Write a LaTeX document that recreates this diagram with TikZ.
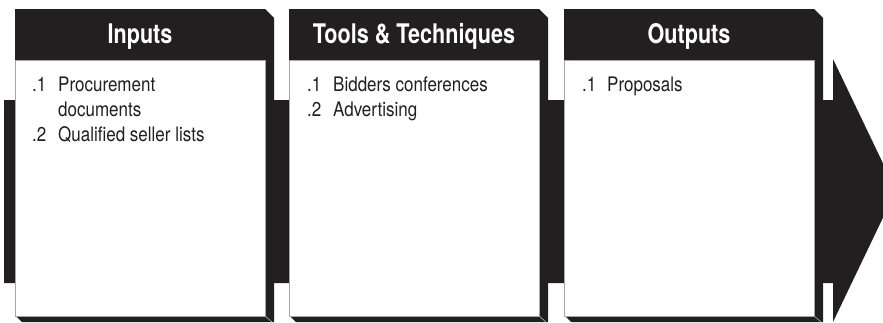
\documentclass[tikz,border=0pt]{standalone}
\usepackage{fontspec}
\setmainfont{TeX Gyre Heros}[FakeStretch=0.85]
\newfontfamily\hdrfont{TeX Gyre Heros}[FakeStretch=0.8]
\definecolor{ink}{RGB}{35,31,32}
\tikzset{
  band/.style={fill=ink},
  boxshade/.style={fill=ink},
  boxbody/.style={fill=white,draw=gray!70,line width=0.6pt},
  fold/.style={draw=gray!60,line width=0.6pt},
  hdr/.style={anchor=base,text=white,font=\hdrfont\bfseries\fontsize{27}{30}\selectfont,inner sep=0pt},
  num/.style={anchor=base west,text=ink,font=\fontsize{20}{24}\selectfont,inner sep=0pt},
  item/.style={anchor=base west,text=ink,font=\fontsize{20}{24}\selectfont,inner sep=0pt}
}
\begin{document}
\begin{tikzpicture}[x=1pt,y=-1pt]
\useasboundingbox (0,0) rectangle (883,322);
\clip (0,0) rectangle (883,322);
% background arrow band
\fill[band] (4,100) -- (833,100) -- (833,59) -- (896,190.5) -- (833,322) -- (833,283) -- (4,283) -- cycle;
% boxes
\foreach \x in {15,289,564}{
  \fill[boxshade] (\x,9) -- (\x+250,9) -- (\x+259,18) -- (\x+259,322) -- (\x+7,322) -- (\x,315) -- cycle;
  \draw[boxbody] (\x,60) rectangle (\x+250,316);
  \draw[fold] (\x+250,316) -- (\x+257,322);
}
% headers
\node[hdr] (inH) at (140,43) {Inputs};
\node[hdr] (ttH) at (414,43) {Tools \& Techniques};
\node[hdr] (outH) at (689,43) {Outputs};
% inputs
\node[num] (in1n) at (32,91) {.1};
\node[item] (in1) at (58,91) {Procurement};
\node[item] (in1b) at (58,116) {documents};
\node[num] (in2n) at (32,141) {.2};
\node[item] (in2) at (58,141) {Qualified seller lists};
% tools
\node[num] (tt1n) at (307,91) {.1};
\node[item] (tt1) at (333,91) {Bidders conferences};
\node[num] (tt2n) at (307,116) {.2};
\node[item] (tt2) at (333,116) {Advertising};
% outputs
\node[num] (out1n) at (582,91) {.1};
\node[item] (out1) at (607,91) {Proposals};
\end{tikzpicture}
\end{document}
